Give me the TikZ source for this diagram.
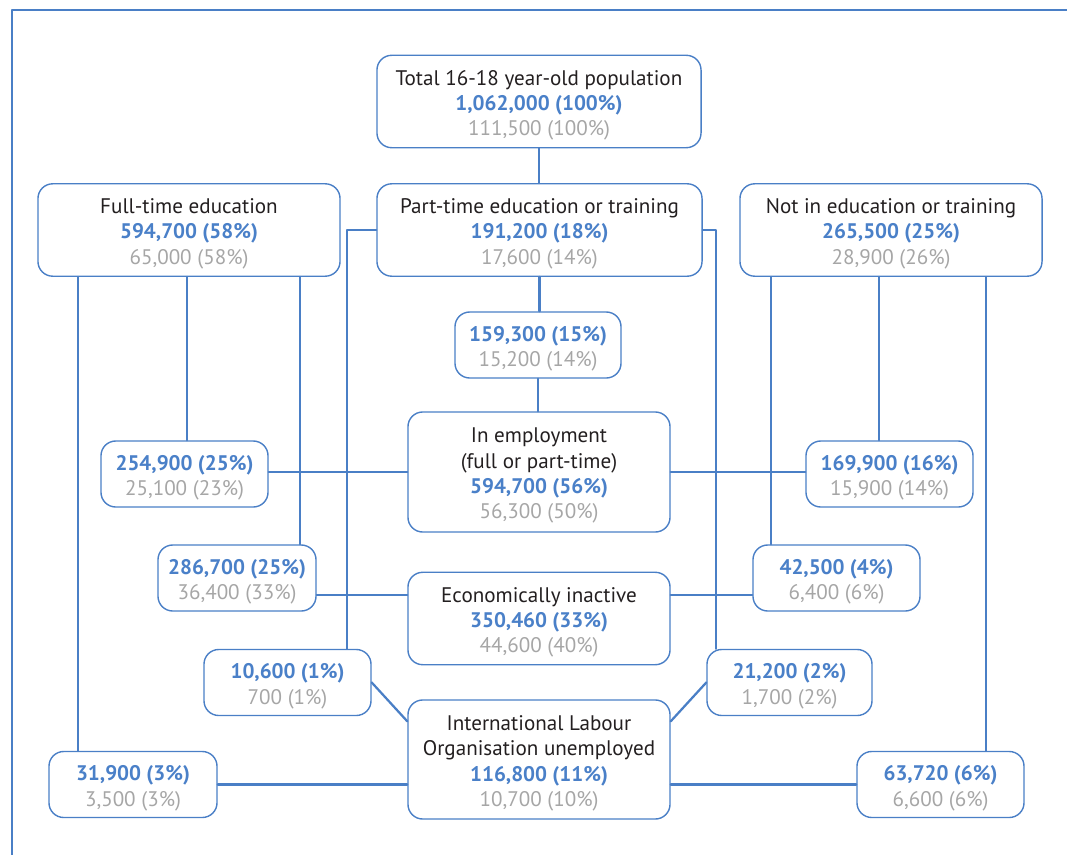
\documentclass[tikz,border=0pt]{standalone}
\usepackage{fontspec}
\setmainfont{PT Sans}
\usepackage{xcolor}
\usepackage{tikz}
\usetikzlibrary{calc}
\definecolor{lineblue}{HTML}{4A7FC6}
\definecolor{numblue}{HTML}{4A80C8}
\definecolor{numgrey}{HTML}{A6A6A6}
\definecolor{txtblack}{HTML}{231F20}
\newcommand{\numb}[1]{\textcolor{numblue}{\bfseries #1}}
\newcommand{\numg}[1]{\textcolor{numgrey}{#1}}
\newcommand{\boxstrut}{\rule{0pt}{16pt}}

\begin{document}
\begin{tikzpicture}[line cap=round,line join=round,x=0.025cm,y=-0.025cm,
  box/.style={draw=lineblue,line width=1.pt,rounded corners=10.5pt,align=center,inner sep=0pt,
    text=txtblack,font=\fontsize{15}{18}\selectfont},
  tall/.style={box,minimum height=2.31cm},
  short/.style={box,minimum height=1.65cm},
  link/.style={line width=1.6pt,color=lineblue}]
\useasboundingbox (0,0) rectangle (1067,855);
\draw[line width=1.4pt,color=lineblue] (1067,10) -- (12,10) -- (12,855);
% top row
\node[tall,minimum width=8.1cm] (tot) at (539,101.5) {\boxstrut Total 16-18 year-old population\\\numb{1,062,000 (100\%)}\\\numg{111,500 (100\%)}};
\node[tall,minimum width=7.55cm] (ft) at (189,230) {\boxstrut Full-time education\\\numb{594,700 (58\%)}\\\numg{65,000 (58\%)}};
\node[tall,minimum width=8.125cm] (pt) at (539.5,230) {\boxstrut Part-time education or training\\\numb{191,200 (18\%)}\\\numg{17,600 (14\%)}};
\node[tall,minimum width=7.55cm] (nie) at (891,230) {\boxstrut Not in education or training\\\numb{265,500 (25\%)}\\\numg{28,900 (26\%)}};
% outcomes
\node[box,minimum width=6.55cm,minimum height=3.0cm] (emp) at (539,472) {\boxstrut In employment\\(full or part-time)\\\numb{594,700 (56\%)}\\\numg{56,300 (50\%)}};
\node[tall,minimum width=6.55cm] (econ) at (539,618.5) {\boxstrut Economically inactive\\\numb{350,460 (33\%)}\\\numg{44,600 (40\%)}};
\node[box,minimum width=6.55cm,minimum height=2.975cm] (ilo) at (539,759.5) {\boxstrut International Labour\\Organisation unemployed\\\numb{116,800 (11\%)}\\\numg{10,700 (10\%)}};
% small boxes
\node[short,minimum width=4.15cm] (b1593) at (538,345) {\boxstrut\numb{159,300 (15\%)}\\\numg{15,200 (14\%)}};
\node[short,minimum width=4.175cm] (b2549) at (184.5,474) {\boxstrut\numb{254,900 (25\%)}\\\numg{25,100 (23\%)}};
\node[short,minimum width=4.175cm] (b1699) at (889.5,474) {\boxstrut\numb{169,900 (16\%)}\\\numg{15,900 (14\%)}};
\node[short,minimum width=3.95cm] (b2867) at (237,578) {\boxstrut\numb{286,700 (25\%)}\\\numg{36,400 (33\%)}};
\node[short,minimum width=4.175cm] (b425) at (836.5,578) {\boxstrut\numb{42,500 (4\%)}\\\numg{6,400 (6\%)}};
\node[short,minimum width=4.175cm] (b106) at (287.5,682.5) {\boxstrut\numb{10,600 (1\%)}\\\numg{700 (1\%)}};
\node[short,minimum width=4.125cm] (b212) at (789.5,682.5) {\boxstrut\numb{21,200 (2\%)}\\\numg{1,700 (2\%)}};
\node[short,minimum width=4.2cm] (b319) at (133,784.5) {\boxstrut\numb{31,900 (3\%)}\\\numg{3,500 (3\%)}};
\node[short,minimum width=4.175cm] (b6372) at (940.5,784.5) {\boxstrut\numb{63,720 (6\%)}\\\numg{6,600 (6\%)}};
% drop points of the verticals
\coordinate (fa) at (78,0);
\coordinate (fb) at (187,0);
\coordinate (fc) at (300,0);
\coordinate (pl) at (347,0);
\coordinate (pr) at (716,0);
\coordinate (na) at (771,0);
\coordinate (nb) at (879,0);
\coordinate (nc) at (986,0);
\coordinate (ei) at (0,595);
% links
\draw[link] (tot.south) -- (tot.south |- pt.north);
\draw[link] (pt.south) -- (pt.south |- b1593.north);
\draw[link] (b1593.south) -- (b1593.south |- emp.north);
\draw[link] (fa |- ft.south) -- (fa |- b319.north);
\draw[link] (fb |- ft.south) -- (fb |- b2549.north);
\draw[link] (fc |- ft.south) -- (fc |- b2867.north);
\draw[link] (pt.west) -| (pl |- b106.north);
\draw[link] (pt.east) -| (pr |- b212.north);
\draw[link] (na |- nie.south) -- (na |- b425.north);
\draw[link] (nb |- nie.south) -- (nb |- b1699.north);
\draw[link] (nc |- nie.south) -- (nc |- b6372.north);
\draw[link] (b2549.east |- emp.west) -- (emp.west);
\draw[link] (emp.east) -- (emp.east -| b1699.west);
\draw[link] (b2867.east |- ei) -- (econ.west |- ei);
\draw[link] (econ.east |- ei) -- (b425.west |- ei);
\draw[link] (b106.east) -- ([yshift=-0.55cm]ilo.north west);
\draw[link] (b212.west) -- ([yshift=-0.55cm]ilo.north east);
\draw[link] (b319.east) -- (b319.east -| ilo.west);
\draw[link] (b6372.west) -- (b6372.west -| ilo.east);
\end{tikzpicture}
\end{document}
